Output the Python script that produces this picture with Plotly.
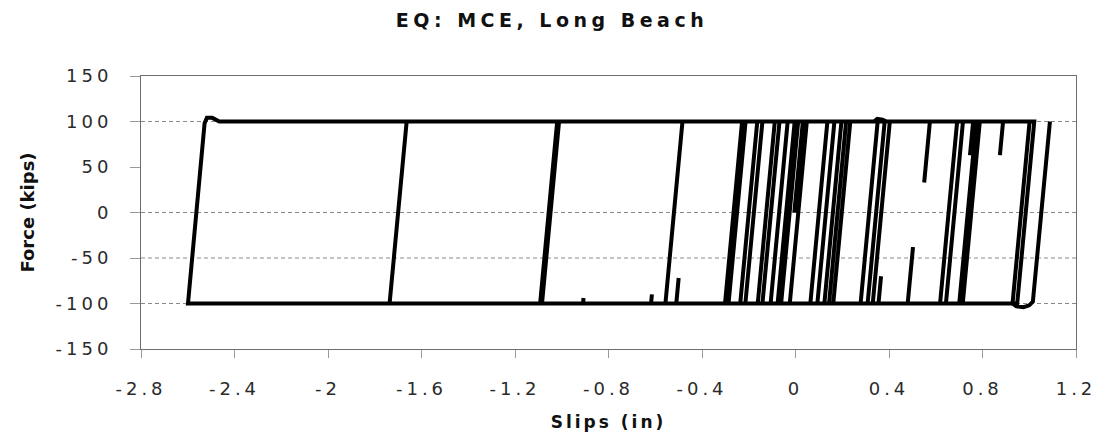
import plotly.graph_objects as go

# ---- data: hysteresis trace vertices ----
slip_in = [
    -0.005, 0.0315, 0.335, 0.35, 0.372, 0.39, 0.4035, 0.3305,
    -0.2365, -0.1635, 0.2165, 0.1435, -0.1615, -0.0885, 0.3815, 0.3085,
    -0.2865, -0.2135, 0.1965, 0.1235, -0.1065, -0.0335, 0.1665, 0.0935,
    -0.0615, 0.0115, 0.3515, 0.2785, -0.2145, -0.1415, 0.2345, 0.1615,
    -0.0765, -0.0035, 0.1365, 0.0635,
    -0.51, -0.4998, -0.51, -0.618, -0.6143, -0.618, -0.909, -0.9068, -0.909,
    -1.0925, -1.0195, -0.4835, -0.5565, -1.7365, -1.6635, -1.0115, -1.0845,
    -2.599, -2.528, -2.518, -2.495, -2.465,
    0.0485, -0.0245, -0.3015, -0.2285,
    0.575, 0.5505, 0.575, 0.7735, 0.7005,
    0.48, 0.5027, 0.48, 0.355, 0.366, 0.355,
    -0.1415, -0.0685,
    0.76, 0.7465, 0.76, 0.7885, 0.7155,
    0.6185, 0.6915,
    0.888, 0.8745, 0.888, 1.0215, 0.9485,
    0.6435, 0.7165, 1.0015, 0.9285,
    0.945, 0.975, 1.0, 1.0155, 1.0885,
]
force_kips = [
    0, 100, 100, 103, 102, 100, 100, -100,
    -100, 100, 100, -100, -100, 100, 100, -100,
    -100, 100, 100, -100, -100, 100, 100, -100,
    -100, 100, 100, -100, -100, 100, 100, -100,
    -100, 100, 100, -100,
    -100, -72, -100, -100, -90, -100, -100, -94, -100,
    -100, 100, 100, -100, -100, 100, 100, -100,
    -100, 98, 104, 104, 100,
    100, -100, -100, 100,
    100, 33, 100, 100, -100,
    -100, -38, -100, -100, -70, -100,
    -100, 100,
    100, 63, 100, 100, -100,
    -100, 100,
    100, 63, 100, 100, -100,
    -100, 100, 100, -100,
    -103, -104, -102, -98, 100,
]

x_ticks = [-2.8, -2.4, -2.0, -1.6, -1.2, -0.8, -0.4, 0.0, 0.4, 0.8, 1.2]
x_tick_labels = ["-2.8", "-2.4", "-2", "-1.6", "-1.2", "-0.8", "-0.4", "0", "0.4", "0.8", "1.2"]
y_ticks = [-150, -100, -50, 0, 50, 100, 150]
y_tick_labels = ["-150", "-100", "-50", "0", "50", "100", "150"]
grid_levels = [100, 0, -50, -100]

title_text = "EQ: MCE, Long Beach"
x_title = "Slips (in)"
y_title = "Force (kips)"


def spaced(s, px):
    return '<span style="letter-spacing:%spx">%s</span>' % (px, s)


FONT = "DejaVu Sans"

fig = go.Figure()
fig.add_trace(go.Scatter(
    x=slip_in, y=force_kips, mode="lines",
    line=dict(color="#000000", width=4),
    showlegend=False, hoverinfo="skip",
))

for g in grid_levels:
    fig.add_hline(y=g, line=dict(color="#8a8a8a", width=1, dash="4px,3px"), layer="below")

fig.update_layout(
    width=1104, height=440,
    margin=dict(l=141, r=28, t=76, b=91, autoexpand=False),
    paper_bgcolor="white", plot_bgcolor="white",
    title=dict(text=spaced(title_text, 4.5), x=0.5, xanchor="center", y=1 - 20 / 440, yanchor="middle",
               font=dict(family=FONT, size=19, color="#111111", weight="bold")),
)

fig.update_xaxes(
    range=[-2.8, 1.2], tickvals=x_ticks, ticktext=[spaced(t, 4) for t in x_tick_labels],
    showgrid=False, zeroline=False, showline=True, linecolor="#6e6e6e", linewidth=1, mirror=True,
    ticks="outside", ticklen=8, tickcolor="#9a9a9a", ticklabelstandoff=15,
    tickfont=dict(family=FONT, size=18, color="#2a2a2a"),
    title=dict(text=spaced(x_title, 3), standoff=18,
               font=dict(family=FONT, size=17, color="#111111", weight="bold")),
)
fig.update_yaxes(
    range=[-150, 150], tickvals=y_ticks, ticktext=[spaced(t, 4) for t in y_tick_labels],
    showgrid=False, zeroline=False, showline=True, linecolor="#6e6e6e", linewidth=1, mirror=True,
    ticks="outside", ticklen=10, tickcolor="#9a9a9a", ticklabelstandoff=14,
    tickfont=dict(family=FONT, size=18, color="#2a2a2a"),
    title=dict(text=y_title, standoff=16,
               font=dict(family=FONT, size=18, color="#111111", weight="bold")),
)

fig.write_html("out.html")
